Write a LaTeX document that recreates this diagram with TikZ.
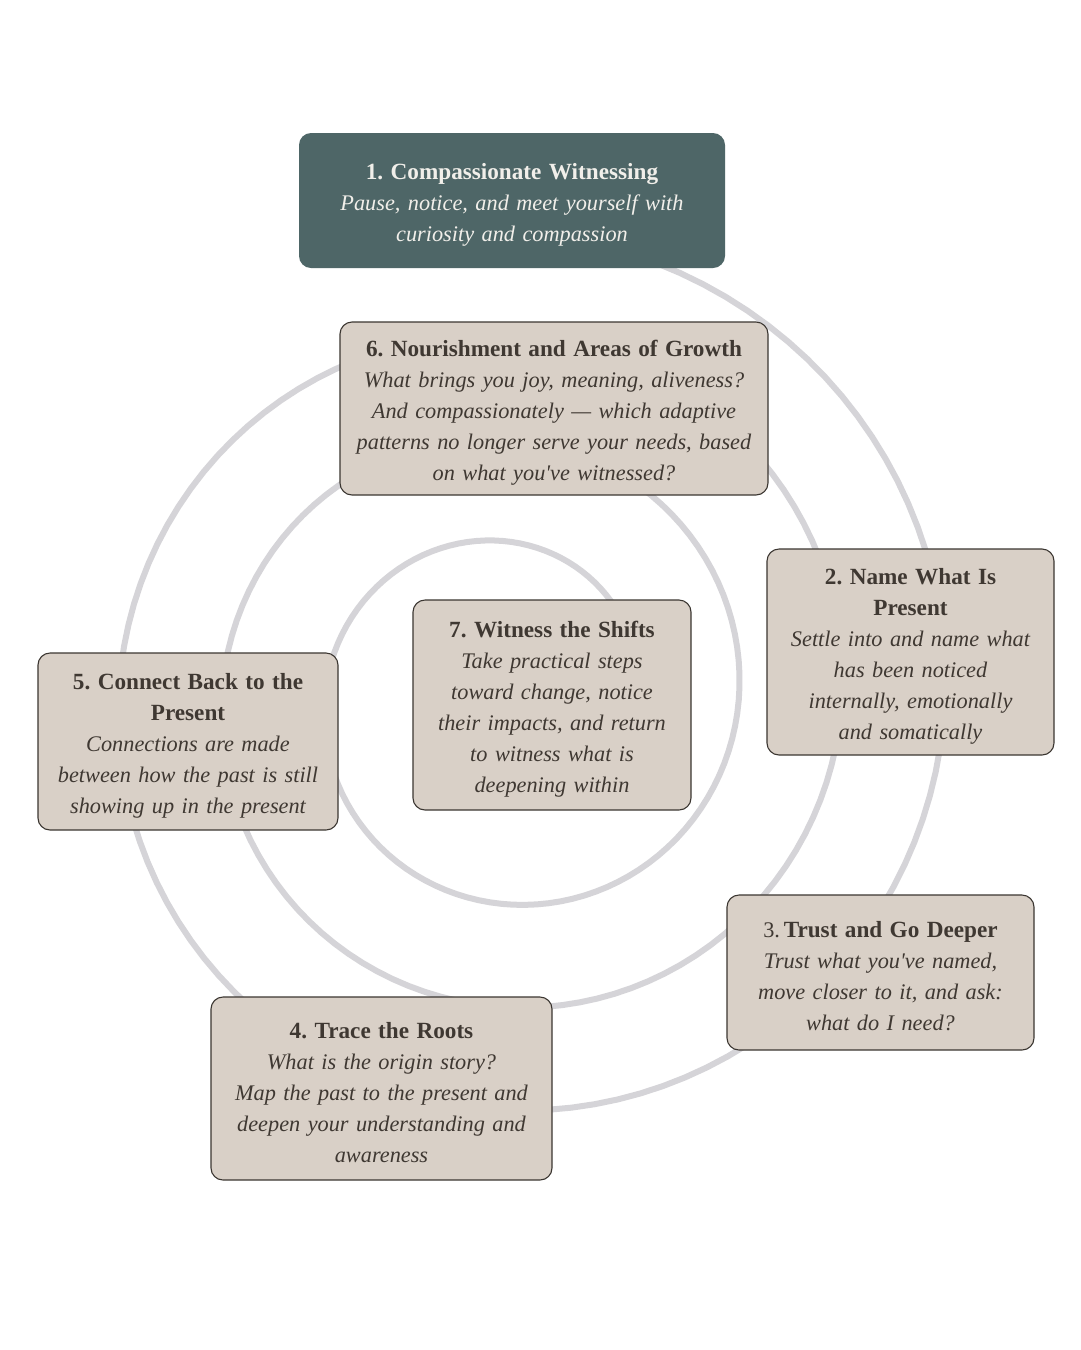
\documentclass[tikz,border=0pt]{standalone}
\usepackage{fontspec}
\setmainfont{Liberation Serif}
\frenchspacing
\definecolor{tealbox}{HTML}{4E6667}
\definecolor{cardfill}{HTML}{D9D0C7}
\definecolor{cardline}{HTML}{3B3631}
\definecolor{ink}{HTML}{3F3832}
\definecolor{lightink}{HTML}{F1EFEA}
\definecolor{spiralgray}{HTML}{D5D4D8}
\newcommand\cardtitle[1]{{\fontsize{23.2}{31}\selectfont\bfseries #1}}
\newcommand\cardbody[1]{{\itshape #1}}
\newcommand\apos{\textquotesingle}
\newcommand\topstrut{\rule{0pt}{24pt}}
\tikzset{
  card/.style={draw=cardline, line width=1.1pt, fill=cardfill, rounded corners=12pt,
    align=center, inner sep=0pt, text=ink, font=\fontsize{22.3}{31}\selectfont\frenchspacing},
  firstcard/.style={card, draw=none, fill=tealbox, text=lightink},
  spiralline/.style={draw=spiralgray, line width=6pt, line cap=round}
}
\begin{document}
\begin{tikzpicture}[x=1pt,y=-1pt]
\useasboundingbox (0,0) rectangle (1080,1350);
\fill[white] (0,0) rectangle (1080,1350);
% spiral
\draw[spiralline] plot[domain=-100:1060, samples=360, variable=\t]
  ({506+(439-0.286111*\t)*cos(\t)}, {697+(439-0.286111*\t)*sin(\t)});
% cards
\node[firstcard, minimum width=426pt, minimum height=135pt, text width=416pt] (s1) at (512,200.5)
 {\topstrut\cardtitle{1. Compassionate Witnessing}\\
  \cardbody{Pause, notice, and meet yourself with}\\
  \cardbody{curiosity and compassion}};
\node[card, minimum width=428pt, minimum height=173pt, text width=420pt] (s6) at (554,408.5)
 {\topstrut\cardtitle{6. Nourishment and Areas of Growth}\\
  \cardbody{What brings you joy, meaning, aliveness?}\\
  \cardbody{And compassionately — which adaptive}\\
  \cardbody{patterns no longer serve your needs, based}\\
  \cardbody{on what you\apos ve witnessed?}};
\node[card, minimum width=287pt, minimum height=206pt, text width=279pt] (s2) at (910.5,652)
 {\topstrut\cardtitle{2. Name What Is}\\
  \cardtitle{Present}\\
  \cardbody{Settle into and name what}\\
  \cardbody{has been noticed}\\
  \cardbody{internally, emotionally}\\
  \cardbody{and somatically}};
\node[card, minimum width=300pt, minimum height=177pt, text width=292pt] (s5) at (188,741.5)
 {\topstrut\cardtitle{5. Connect Back to the}\\
  \cardtitle{Present}\\
  \cardbody{Connections are made}\\
  \cardbody{between how the past is still}\\
  \cardbody{showing up in the present}};
\node[card, minimum width=278pt, minimum height=210pt, text width=270pt] (s7) at (552,705)
 {\topstrut\cardtitle{7. Witness the Shifts}\\
  \cardbody{Take practical steps}\\
  \cardbody{toward change, notice}\\
  \cardbody{their impacts, and return}\\
  \cardbody{to witness what is}\\
  \cardbody{deepening within}};
\node[card, minimum width=307pt, minimum height=155pt, text width=299pt] (s3) at (880.5,972.5)
 {\topstrut{\fontsize{22.3}{31}\selectfont 3.}\,\cardtitle{Trust and Go Deeper}\\
  \cardbody{Trust what you\apos ve named,}\\
  \cardbody{move closer to it, and ask:}\\
  \cardbody{what do I need?}};
\node[card, minimum width=341pt, minimum height=183pt, text width=333pt] (s4) at (381.5,1088.5)
 {\topstrut\cardtitle{4. Trace the Roots}\\
  \cardbody{What is the origin story?}\\
  \cardbody{Map the past to the present and}\\
  \cardbody{deepen your understanding and}\\
  \cardbody{awareness}};
\end{tikzpicture}
\end{document}
